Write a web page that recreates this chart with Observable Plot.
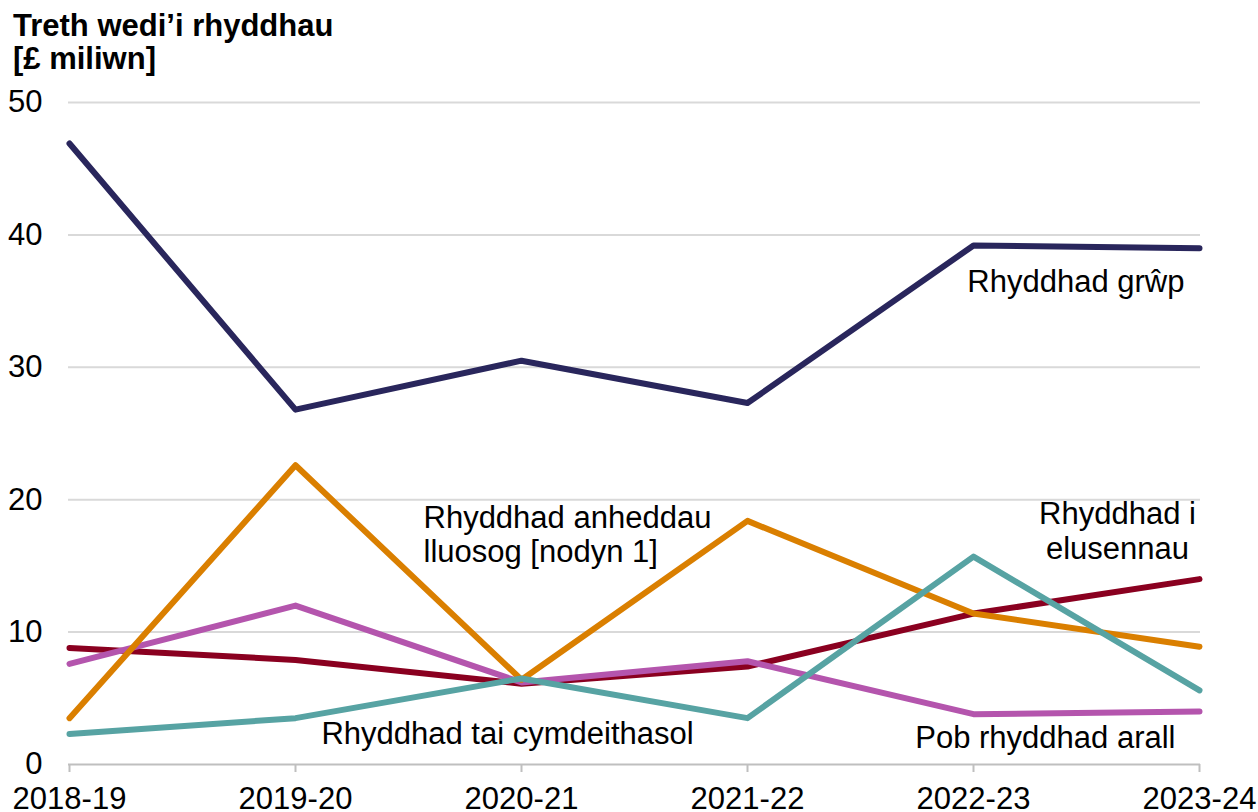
<!DOCTYPE html>
<html>
<head>
<meta charset="utf-8">
<script src="https://cdn.jsdelivr.net/npm/d3@7"></script>
<script src="https://cdn.jsdelivr.net/npm/@observablehq/plot@0.6"></script>
<style>
  html, body { margin: 0; padding: 0; background: #fff; overflow: hidden; }
  #wrap { position: relative; width: 1258px; height: 812px; }
  #title { position: absolute; left: 13px; top: 9px; font-family: "Liberation Sans", Arial, sans-serif; font-weight: bold; font-size: 31px; line-height: 33px; color: #000; z-index: 2; }
  svg { overflow: visible; }
</style>
</head>
<body>
<div id="wrap">
  <div id="title">Treth wedi’i rhyddhau<br>[£ miliwn]</div>
  <div id="chart"></div>
</div>
<script>
const years = ["2018-19", "2019-20", "2020-21", "2021-22", "2022-23", "2023-24"];
const groupRelief = [46.9, 26.8, 30.5, 27.3, 39.2, 39.0];
const multipleDwellings = [3.5, 22.6, 6.4, 18.4, 11.4, 8.9];
const charities = [8.8, 7.9, 6.1, 7.4, 11.4, 14.0];
const allOther = [7.6, 12.0, 6.2, 7.8, 3.8, 4.0];
const socialHousing = [2.3, 3.5, 6.5, 3.5, 15.7, 5.6];
const yTicks = [0, 10, 20, 30, 40, 50];

const seriesNames = ["Rhyddhad grŵp", "Rhyddhad i elusennau", "Pob rhyddhad arall", "Rhyddhad anheddau lluosog", "Rhyddhad tai cymdeithasol"];
const seriesValues = [groupRelief, charities, allOther, multipleDwellings, socialHousing];
const seriesColors = ["#29265c", "#8a0020", "#b455ad", "#da7f00", "#57a3a3"];

// label text, anchor category, anchor value
const labelTexts = ["Rhyddhad grŵp", "Rhyddhad anheddau\nlluosog [nodyn 1]", "Rhyddhad i\nelusennau", "Rhyddhad tai cymdeithasol", "Pob rhyddhad arall"];
const labelYears = ["2023-24", "2020-21", "2023-24", "2020-21", "2023-24"];
const labelValues = [36.4, 17.4, 17.7, 2.3, 2.0];

const rows = [];
seriesNames.forEach((s, i) => years.forEach((y, j) => rows.push({series: s, year: y, value: seriesValues[i][j]})));

const labels = labelTexts.map((t, i) => ({text: t, year: labelYears[i], value: labelValues[i]}));

const lineMarks = seriesNames.map((s, i) => Plot.line(rows.filter(r => r.series === s), {
  x: "year", y: "value", stroke: seriesColors[i], strokeWidth: 6, strokeLinecap: "round", strokeLinejoin: "round"
}));

const FS = 31;
const chart = Plot.plot({
  width: 1258,
  height: 812,
  marginTop: 102,
  marginBottom: 48,
  marginLeft: 68,
  marginRight: 58,
  style: {fontFamily: "'Liberation Sans', Arial, sans-serif", fontSize: FS + "px", color: "#000", background: "transparent"},
  x: {type: "point", domain: years, padding: 0, label: null, axis: null},
  y: {domain: [0, 50], label: null, axis: null},
  marks: [
    Plot.ruleY(yTicks.filter(d => d > 0), {stroke: "#d9d9d9", strokeWidth: 2}),
    Plot.axisY(yTicks, {tickSize: 0, tickPadding: 26, label: null, fill: "#000", fontSize: FS}),
    Plot.ruleY([0], {stroke: "#bfbfbf", strokeWidth: 2}),
    Plot.axisX({tickSize: 8, tickPadding: 14, label: null, stroke: "#bfbfbf", strokeWidth: 2, fill: "#000", fontSize: FS}),
    ...lineMarks,
    Plot.text([labels[0]], {x: "year", y: "value", text: "text", textAnchor: "end", dx: -15, fill: "#000", fontSize: FS}),
    Plot.text([labels[1]], {x: "year", y: "value", text: "text", textAnchor: "start", dx: -98, fill: "#000", fontSize: FS, lineHeight: 1.08}),
    Plot.text([labels[2]], {x: "year", y: "value", text: "text", textAnchor: "middle", dx: -82, fill: "#000", fontSize: FS, lineHeight: 1.12}),
    Plot.text([labels[3]], {x: "year", y: "value", text: "text", textAnchor: "middle", dx: -14, fill: "#000", fontSize: FS}),
    Plot.text([labels[4]], {x: "year", y: "value", text: "text", textAnchor: "end", dx: -24, fill: "#000", fontSize: FS})
  ]
});
document.getElementById("chart").appendChild(chart);
</script>
</body>
</html>
